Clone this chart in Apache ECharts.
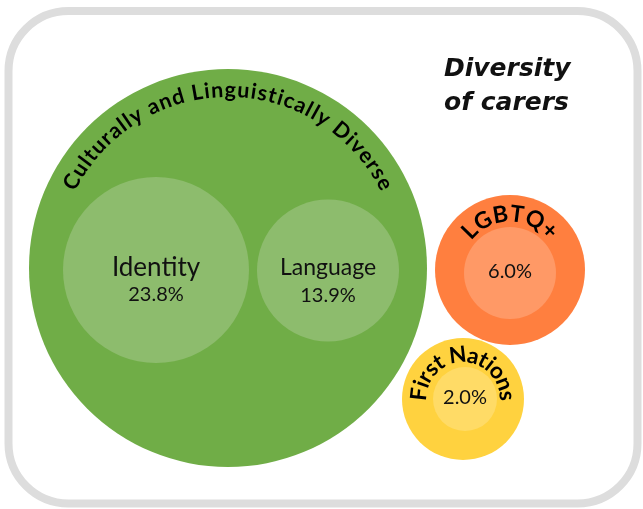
<!DOCTYPE html>
<html><head><meta charset="utf-8">
<script src="https://cdn.jsdelivr.net/npm/echarts@6/dist/echarts.min.js"></script>
<style>html,body{margin:0;padding:0;background:#fff}#c{width:643px;height:509px}</style>
</head><body><div id="c"></div>
<script>
// ---- data ----
const groupNames = ['Culturally and Linguistically Diverse', 'LGBTQ+', 'First Nations'];
const categories = ['Identity', 'Language', 'LGBTQ+', 'First Nations'];
const values = [23.8, 13.9, 6.0, 2.0];
const categoryGroup = [0, 0, 1, 2];
const showCategoryName = [true, true, false, false];
const titleText = 'Diversity\nof carers';

// ---- layout (axis units) ----
const groupLayout = [{x: 228, y: 268, r: 199}, {x: 510, y: 270, r: 75}, {x: 463, y: 399, r: 61}];
const innerLayout = [{x: 156, y: 270, r: 93}, {x: 328, y: 270.5, r: 71}, {x: 510, y: 273, r: 46}, {x: 465, y: 399, r: 32}];
const groupColors = ['#70ad47', '#ff7f3f', '#ffd23f'];
const innerColors = ['#8dbc6d', '#8dbc6d', '#ff9966', '#ffdb66'];
// arc labels: font size, mid radius, angular span (degrees)
const arcStyle = [
  {size: 21.5, r: 178, span: 127},
  {size: 23, r: 56, span: 104},
  {size: 22.5, r: 44, span: 184}
];
const nameSize = [26, 23];
const valueSize = 20;
const FONT = 'Lato, "Noto Sans", sans-serif';

const measureCtx = document.createElement('canvas').getContext('2d');
function arcChars(text, cx, cy, rad, size, spanDeg) {
  measureCtx.font = 'bold ' + size + 'px ' + FONT;
  const chars = Array.from(text);
  const widths = chars.map(ch => measureCtx.measureText(ch).width);
  const sum = widths.reduce((a, b) => a + b, 0);
  const target = spanDeg * Math.PI / 180 * rad;
  const spacing = Math.max(0, (target - sum) / (chars.length - 1));
  const total = sum + spacing * (chars.length - 1);
  let off = -total / 2;
  const out = [];
  chars.forEach((ch, i) => {
    const mid = off + widths[i] / 2;
    const th = mid / rad;
    off += widths[i] + spacing;
    if (ch === ' ') return;
    out.push({
      type: 'text',
      x: cx + rad * Math.sin(th),
      y: cy - rad * Math.cos(th),
      rotation: -th,
      style: {
        text: ch, fill: '#000', fontSize: size, fontFamily: FONT, fontWeight: 'bold',
        align: 'center', verticalAlign: 'middle'
      }
    });
  });
  return out;
}

const chart = echarts.init(document.getElementById('c'), null, {renderer: 'canvas'});
chart.setOption({
  animation: false,
  title: {
    text: titleText, left: 444, top: 52, padding: 0,
    textStyle: {fontFamily: '"DejaVu Sans", sans-serif', fontStyle: 'italic', fontWeight: 'bold', fontSize: 25, lineHeight: 34, color: '#111'}
  },
  grid: {left: 0, right: 0, top: 0, bottom: 0},
  xAxis: {type: 'value', min: 0, max: 643, show: false},
  yAxis: {type: 'value', min: 0, max: 509, inverse: true, show: false},
  graphic: [{
    type: 'rect', z: 0, silent: true,
    shape: {x: 8.5, y: 11, width: 629, height: 492.5, r: 60},
    style: {fill: 'none', stroke: '#dddddd', lineWidth: 8}
  }],
  series: [{
    type: 'custom', z: 2, silent: true,
    data: groupNames.map((n, i) => [groupLayout[i].x, groupLayout[i].y, groupLayout[i].r, i]),
    renderItem: function (params, api) {
      const i = api.value(3);
      const c = api.coord([api.value(0), api.value(1)]);
      const r = api.size([api.value(2), 0])[0];
      const st = arcStyle[i];
      const rad = api.size([st.r, 0])[0];
      return {
        type: 'group',
        children: [{type: 'circle', shape: {cx: c[0], cy: c[1], r: r}, style: {fill: groupColors[i]}}]
          .concat(arcChars(groupNames[i], c[0], c[1], rad, st.size, st.span))
      };
    }
  }, {
    type: 'custom', z: 3, silent: true,
    data: categories.map((n, i) => [innerLayout[i].x, innerLayout[i].y, innerLayout[i].r, i, values[i]]),
    renderItem: function (params, api) {
      const i = api.value(3);
      const c = api.coord([api.value(0), api.value(1)]);
      const r = api.size([api.value(2), 0])[0];
      const v = api.value(4).toFixed(1) + '%';
      const children = [{type: 'circle', shape: {cx: c[0], cy: c[1], r: r}, style: {fill: innerColors[i]}}];
      if (showCategoryName[i]) {
        children.push({type: 'text', x: c[0], y: c[1] - 2.5,
          style: {text: categories[i], fill: '#111', fontSize: nameSize[i], fontFamily: FONT, align: 'center', verticalAlign: 'middle'}});
        children.push({type: 'text', x: c[0], y: c[1] + 25,
          style: {text: v, fill: '#111', fontSize: valueSize, fontFamily: FONT, align: 'center', verticalAlign: 'middle'}});
      } else {
        children.push({type: 'text', x: c[0], y: c[1] - 1,
          style: {text: v, fill: '#111', fontSize: valueSize, fontFamily: FONT, align: 'center', verticalAlign: 'middle'}});
      }
      return {type: 'group', children: children};
    }
  }]
});
</script></body></html>
